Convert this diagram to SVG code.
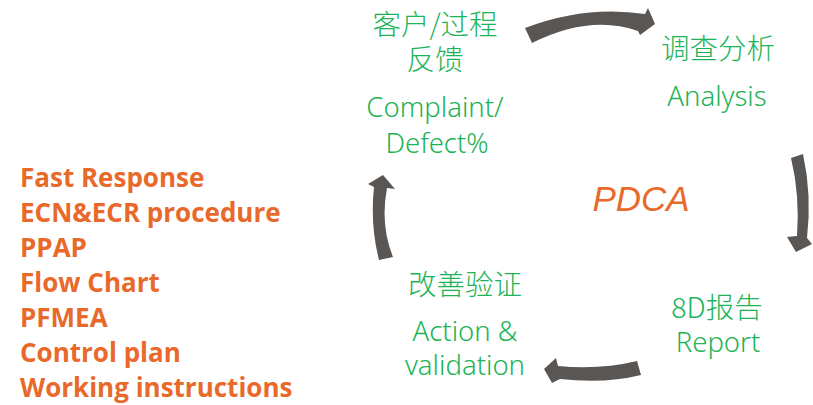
<svg xmlns="http://www.w3.org/2000/svg" width="813" height="405" viewBox="0 0 813 405">
<style>
.zh{font-family:"Noto Sans CJK SC","Noto Sans",sans-serif;font-weight:300;font-size:28.5px;fill:#1DB357;text-anchor:middle}
.en{font-family:"Noto Sans","Noto Sans CJK SC",sans-serif;font-weight:300;font-size:27.5px;fill:#1DB357;text-anchor:middle}
.list{font-family:"Open Sans","Liberation Sans",sans-serif;font-weight:700;font-size:26px;fill:#E9692A}
.pdca{font-family:"Liberation Sans",Arial,sans-serif;font-style:italic;font-size:35px;fill:#E9692A;text-anchor:middle}
.arr{fill:#5A5654}
</style>
<rect width="813" height="405" fill="#ffffff"/>
<g id="connectors">
<path class="arr" d="M525,28 Q585,5 645,14 L648,8 L655,24 L640,35 L638,31 Q590,14 532,43 Z"/>
<path class="arr" d="M791,158 L803,154 Q812,195 807,238 L812,244 L796,252 L787,237 L797,236 Q800,195 791,158 Z"/>
<path class="arr" d="M637,361 Q600,370 558,366 L556,358 L544,369 L552,383 L560,379 Q605,384 641,375 Z"/>
<path class="arr" d="M379,260 Q370,225 374,187 L368,184 L383,175 L395,189 L387,188 Q380,225 393,257 Z"/>
</g>
<g id="feedback">
<text class="zh"><tspan x="435" y="35">客户/过程</tspan><tspan x="435" y="70">反馈</tspan></text>
<text class="en" x="435" y="117">Complaint/</text>
<text class="en" x="437" y="153">Defect%</text>
</g>
<g id="analysis">
<text class="zh" x="718" y="59">调查分析</text>
<text class="en" x="717" y="106">Analysis</text>
</g>
<g id="report">
<text class="zh" x="717" y="318">8D报告</text>
<text class="en" x="718" y="352">Report</text>
</g>
<g id="action">
<text class="zh" x="465" y="295">改善验证</text>
<text class="en" x="465" y="341">Action &amp;</text>
<text class="en" x="465" y="375">validation</text>
</g>
<g id="pdca">
<text class="pdca" x="641" y="211">PDCA</text>
</g>
<g id="tools">
<text class="list" x="20" y="187">Fast Response</text>
<text class="list" x="20" y="222">ECN&amp;ECR procedure</text>
<text class="list" x="20" y="257">PPAP</text>
<text class="list" x="20" y="292">Flow Chart</text>
<text class="list" x="20" y="327">PFMEA</text>
<text class="list" x="20" y="362">Control plan</text>
<text class="list" x="20" y="397">Working instructions</text>
</g>
</svg>
